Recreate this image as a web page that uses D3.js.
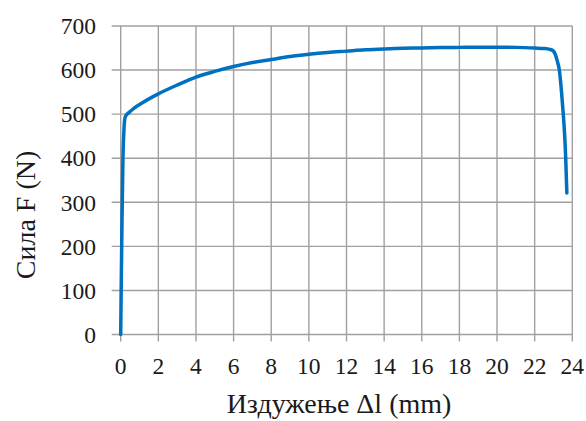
<!DOCTYPE html>
<html>
<head>
<meta charset="utf-8">
<script src="https://cdn.jsdelivr.net/npm/d3@7"></script>
<style>
  html, body { margin: 0; padding: 0; background: #fff; }
  svg { display: block; }
  text { font-family: "Liberation Serif", "Times New Roman", serif; fill: #1a1a1a; }
</style>
</head>
<body>
<svg id="chart" width="586" height="421"></svg>
<script>
// Tensile test: elongation (mm) vs force (N)
const elongation = [0, 0.03, 0.07, 0.12, 0.18, 0.23, 0.3, 0.45, 0.7, 1.2, 2, 3, 4, 5, 6, 7, 8, 9, 10, 11, 12, 13, 14, 15, 16, 17, 18, 19, 20, 21, 22, 22.5, 22.8, 23.0, 23.1, 23.2, 23.31, 23.43, 23.52, 23.59, 23.65, 23.71];
const force      = [0, 120, 260, 400, 470, 492, 498, 504, 513, 527, 546, 566, 584, 597, 608, 617, 624, 631, 636, 640, 643, 646, 648, 649.5, 650, 651, 651.5, 652, 652, 651.5, 650, 649, 647, 643, 635, 621, 600, 549, 500, 455, 400, 321];

const xTicks = [0, 2, 4, 6, 8, 10, 12, 14, 16, 18, 20, 22, 24];
const yTicks = [0, 100, 200, 300, 400, 500, 600, 700];
const xTitle = "Издужење Δl (mm)";
const yTitle = "Сила F (N)";

const svg = d3.select("#chart");
const x = d3.scaleLinear().domain([0, 24]).range([120.7, 572.3]);
const y = d3.scaleLinear().domain([0, 700]).range([334.5, 26]);

const gridColor = "#a0a0a0";

// horizontal grid lines with outward tick stubs on the left
svg.append("g")
  .selectAll("line")
  .data(yTicks)
  .join("line")
  .attr("x1", x(0) - 9)
  .attr("x2", x(24))
  .attr("y1", d => y(d))
  .attr("y2", d => y(d))
  .attr("stroke", gridColor)
  .attr("stroke-width", 1.4);

// vertical grid lines with outward tick stubs below
svg.append("g")
  .selectAll("line")
  .data(xTicks)
  .join("line")
  .attr("x1", d => x(d))
  .attr("x2", d => x(d))
  .attr("y1", y(700))
  .attr("y2", y(0) + 7)
  .attr("stroke", gridColor)
  .attr("stroke-width", 1.4);

// y tick labels
svg.append("g")
  .selectAll("text")
  .data(yTicks)
  .join("text")
  .attr("x", 96)
  .attr("y", d => y(d))
  .attr("dy", "0.35em")
  .attr("text-anchor", "end")
  .attr("font-size", 23.5)
  .text(d => d);

// x tick labels
svg.append("g")
  .selectAll("text")
  .data(xTicks)
  .join("text")
  .attr("x", d => x(d))
  .attr("y", 373.5)
  .attr("text-anchor", "middle")
  .attr("font-size", 23.5)
  .text(d => d);

// axis titles
svg.append("text")
  .attr("x", 339)
  .attr("y", 413)
  .attr("text-anchor", "middle")
  .attr("font-size", 28)
  .text(xTitle);

svg.append("text")
  .attr("transform", "translate(35,215) rotate(-90)")
  .attr("text-anchor", "middle")
  .attr("font-size", 28)
  .text(yTitle);

// force–elongation curve
const pts = elongation.map((e, i) => [e, force[i]]);
svg.append("path")
  .datum(pts)
  .attr("fill", "none")
  .attr("stroke", "#0070c0")
  .attr("stroke-width", 3.5)
  .attr("stroke-linejoin", "round")
  .attr("stroke-linecap", "round")
  .attr("d", d3.line().x(d => x(d[0])).y(d => y(d[1])).curve(d3.curveMonotoneX));
</script>
</body>
</html>
